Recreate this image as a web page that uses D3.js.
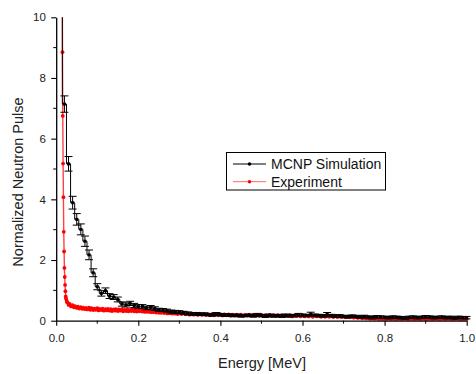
<!DOCTYPE html>
<html><head><meta charset="utf-8">
<script src="https://cdn.jsdelivr.net/npm/d3@7/dist/d3.min.js"></script>
<style>body{margin:0;background:#fff}svg{display:block}text{font-family:"Liberation Sans",Arial,sans-serif}</style>
</head><body><svg id="c" width="476" height="374"></svg>
<script>
// MCNP simulation: bin energies (MeV), values and error bars
const simEnergy = [0.01,0.02,0.03,0.04,0.05,0.06,0.07,0.08,0.09,0.10,0.11,0.12,0.13,0.14,0.15,0.16,0.17,0.18,0.19,0.20,
0.21,0.22,0.23,0.24,0.25,0.26,0.27,0.28,0.29,0.30,0.31,0.32,0.33,0.34,0.35,0.36,0.37,0.38,0.39,0.40,
0.41,0.42,0.43,0.44,0.45,0.46,0.47,0.48,0.49,0.50,0.51,0.52,0.53,0.54,0.55,0.56,0.57,0.58,0.59,0.60,
0.61,0.62,0.63,0.64,0.65,0.66,0.67,0.68,0.69,0.70,0.71,0.72,0.73,0.74,0.75,0.76,0.77,0.78,0.79,0.80,
0.81,0.82,0.83,0.84,0.85,0.86,0.87,0.88,0.89,0.90,0.91,0.92,0.93,0.94,0.95,0.96,0.97,0.98,0.99,1.00];
const simValue = [14.0,7.14,5.17,3.89,3.34,3.01,2.62,2.17,1.58,1.12,0.90,0.99,0.81,0.78,0.70,0.55,0.52,0.57,0.50,0.47,
0.47,0.42,0.44,0.40,0.36,0.35,0.33,0.30,0.29,0.28,0.26,0.24,0.22,0.23,0.21,0.22,0.20,0.19,0.22,0.20,
0.18,0.19,0.17,0.18,0.16,0.17,0.18,0.16,0.19,0.17,0.15,0.18,0.16,0.17,0.15,0.18,0.16,0.17,0.19,0.18,
0.17,0.22,0.18,0.17,0.16,0.21,0.17,0.15,0.16,0.14,0.13,0.15,0.14,0.12,0.14,0.12,0.10,0.13,0.12,0.11,
0.10,0.12,0.11,0.10,0.09,0.11,0.12,0.10,0.11,0.13,0.12,0.10,0.11,0.12,0.10,0.11,0.09,0.11,0.10,0.10];
const simError = [0.40,0.27,0.24,0.21,0.19,0.18,0.17,0.16,0.13,0.10,0.09,0.09,0.08,0.08,0.08,0.07,0.07,0.07,0.07,0.06,
0.06,0.06,0.06,0.06,0.05,0.05,0.05,0.05,0.05,0.05,0.05,0.05,0.04,0.04,0.04,0.04,0.04,0.04,0.05,0.04,
0.04,0.04,0.04,0.04,0.04,0.04,0.04,0.04,0.05,0.04,0.04,0.04,0.04,0.04,0.04,0.04,0.04,0.04,0.05,0.04,
0.04,0.06,0.04,0.04,0.04,0.06,0.04,0.04,0.04,0.04,0.04,0.04,0.04,0.04,0.04,0.04,0.04,0.04,0.04,0.04,
0.04,0.04,0.04,0.04,0.04,0.04,0.04,0.04,0.04,0.04,0.04,0.04,0.04,0.04,0.04,0.04,0.04,0.04,0.04,0.04];

// Experiment: [energy MeV, normalized pulse]
const experiment = [
[0.0145,13.0],[0.0150,10.4],[0.0153,8.85],[0.0160,6.75],[0.0168,5.18],[0.0176,4.07],[0.0184,2.93],[0.0192,2.28],[0.0200,1.74],
[0.0208,1.44],[0.0216,1.18],[0.0224,0.97],[0.0232,0.80],[0.0240,0.73],[0.0250,0.68],[0.0260,0.62],[0.0275,0.60],
[0.030,0.52],[0.033,0.55],[0.036,0.47],[0.040,0.51],[0.043,0.44],[0.046,0.48],[0.050,0.42],[0.053,0.46],[0.056,0.40],
[0.060,0.45],[0.063,0.39],[0.066,0.43],[0.070,0.38],[0.073,0.42],[0.076,0.37],[0.080,0.43],[0.083,0.36],[0.086,0.41],
[0.090,0.35],[0.093,0.40],[0.096,0.36],[0.100,0.41],[0.103,0.34],[0.106,0.39],[0.110,0.35],[0.113,0.40],[0.116,0.33],
[0.120,0.38],[0.123,0.34],[0.126,0.39],[0.130,0.33],[0.133,0.38],[0.136,0.32],[0.140,0.37],[0.143,0.33],[0.146,0.38],
[0.150,0.32],[0.153,0.37],[0.156,0.33],[0.160,0.38],[0.163,0.31],[0.166,0.36],[0.170,0.32],[0.173,0.37],[0.176,0.31],
[0.180,0.36],[0.183,0.32],[0.186,0.37],[0.190,0.31],[0.193,0.36],[0.196,0.30],[0.200,0.35],[0.203,0.31],[0.206,0.36],
[0.210,0.30],[0.213,0.34],[0.216,0.29],[0.220,0.34],[0.223,0.29],[0.226,0.33],[0.230,0.28],[0.233,0.32],[0.236,0.28],
[0.240,0.31],[0.243,0.27],[0.246,0.31],[0.250,0.26],[0.253,0.30],[0.256,0.26],[0.260,0.29],[0.263,0.25],[0.266,0.28],
[0.270,0.24],[0.273,0.28],[0.276,0.24],[0.280,0.27],[0.283,0.23],[0.286,0.27],[0.290,0.23],[0.293,0.26],[0.296,0.22],
[0.300,0.26],[0.305,0.22],[0.310,0.25],[0.315,0.21],[0.320,0.24],[0.325,0.20],[0.330,0.24],[0.335,0.20],[0.340,0.23],
[0.345,0.19],[0.350,0.23],[0.355,0.19],[0.360,0.22],[0.365,0.19],[0.370,0.22],[0.375,0.18],[0.380,0.22],[0.385,0.18],
[0.390,0.21],[0.395,0.18],[0.400,0.21],[0.405,0.17],[0.410,0.21],[0.415,0.18],[0.420,0.21],[0.425,0.17],[0.430,0.20],
[0.435,0.17],[0.440,0.20],[0.445,0.17],[0.450,0.20],[0.455,0.16],[0.460,0.19],[0.465,0.17],[0.470,0.20],[0.475,0.16],
[0.480,0.19],[0.485,0.16],[0.490,0.19],[0.495,0.16],[0.500,0.19],[0.505,0.15],[0.510,0.18],[0.515,0.16],[0.520,0.19],
[0.525,0.15],[0.530,0.18],[0.535,0.15],[0.540,0.18],[0.545,0.15],[0.550,0.18],[0.555,0.15],[0.560,0.17],[0.565,0.15],
[0.570,0.18],[0.575,0.14],[0.580,0.17],[0.585,0.15],[0.590,0.18],[0.595,0.14],[0.600,0.17],[0.605,0.14],[0.610,0.17],
[0.615,0.14],[0.620,0.17],[0.625,0.13],[0.630,0.16],[0.635,0.14],[0.640,0.16],[0.645,0.13],[0.650,0.16],[0.655,0.13],
[0.660,0.15],[0.665,0.13],[0.670,0.15],[0.675,0.12],[0.680,0.15],[0.685,0.12],[0.690,0.14],[0.695,0.12],[0.700,0.14],
[0.705,0.11],[0.710,0.13],[0.715,0.11],[0.720,0.13],[0.725,0.10],[0.730,0.12],[0.735,0.09],[0.740,0.11],[0.745,0.08],
[0.750,0.09],[0.755,0.07],[0.760,0.08],[0.765,0.06],[0.770,0.07],[0.775,0.06],[0.780,0.07],[0.785,0.05],[0.790,0.06],
[0.795,0.05],[0.800,0.06],[0.805,0.05],[0.810,0.06],[0.815,0.05],[0.820,0.06],[0.825,0.05],[0.830,0.05],[0.835,0.06],
[0.840,0.05],[0.845,0.05],[0.850,0.06],[0.855,0.05],[0.860,0.05],[0.865,0.06],[0.870,0.05],[0.875,0.05],[0.880,0.06],
[0.885,0.05],[0.890,0.05],[0.895,0.06],[0.900,0.05],[0.905,0.05],[0.910,0.06],[0.915,0.05],[0.920,0.05],[0.925,0.06],
[0.930,0.05],[0.935,0.05],[0.940,0.06],[0.945,0.05],[0.950,0.05],[0.955,0.06],[0.960,0.05],[0.965,0.05],[0.970,0.05],
[0.975,0.06],[0.980,0.05],[0.985,0.05],[0.990,0.05],[0.995,0.05],[1.000,0.05]];

const xTicks = [0.0,0.2,0.4,0.6,0.8,1.0];
const yTicks = [0,2,4,6,8,10];
const seriesNames = ["MCNP Simulation","Experiment"];

const svg = d3.select("#c");
const X0 = 56.2, X1 = 466.7, Y0 = 320.7, Y1 = 17.3;
const x = d3.scaleLinear().domain([0,1]).range([X0,X1]);
const y = d3.scaleLinear().domain([0,10]).range([Y0,Y1]);

svg.append("defs").append("clipPath").attr("id","clip")
  .append("rect").attr("x",X0).attr("y",Y1).attr("width",X1-X0+4).attr("height",Y0-Y1);

const plot = svg.append("g").attr("clip-path","url(#clip)");

// Experiment (red)
const expLine = d3.line().x(d=>x(d[0])).y(d=>y(d[1]));
plot.append("path").datum(experiment).attr("d",expLine)
  .attr("fill","none").attr("stroke","#ff0000").attr("stroke-width",1.4).attr("stroke-opacity",0.75);
plot.append("g").selectAll("circle").data(experiment).join("circle")
  .attr("cx",d=>x(d[0])).attr("cy",d=>y(d[1])).attr("r",1.9).attr("fill","#ff0000");

// Simulation (black step + points + error bars)
const sim = simEnergy.map((e,i)=>({e, v:simValue[i], err:simError[i]}));
const simLine = d3.line().x(d=>x(d.e)).y(d=>y(d.v)).curve(d3.curveStep);
plot.append("path").datum(sim).attr("d",simLine)
  .attr("fill","none").attr("stroke","#000").attr("stroke-width",1);
const eb = plot.append("g").attr("stroke","#000").attr("stroke-width",1);
sim.forEach(d=>{
  const cx = x(d.e), t = y(d.v+d.err), b = y(d.v-d.err);
  eb.append("line").attr("x1",cx).attr("x2",cx).attr("y1",t).attr("y2",b);
  eb.append("line").attr("x1",cx-4).attr("x2",cx+4).attr("y1",t).attr("y2",t);
  eb.append("line").attr("x1",cx-4).attr("x2",cx+4).attr("y1",b).attr("y2",b);
});
plot.append("g").selectAll("rect").data(sim).join("rect")
  .attr("x",d=>x(d.e)-1.5).attr("y",d=>y(d.v)-1.5).attr("width",3).attr("height",3).attr("fill","#000");

// Axes
const xAxis = d3.axisBottom(x).tickValues(xTicks).tickFormat(d3.format(".1f")).tickSize(5).tickSizeOuter(0);
const yAxis = d3.axisLeft(y).tickValues(yTicks).tickFormat(d3.format("d")).tickSize(5).tickSizeOuter(0);
const gx = svg.append("g").attr("transform",`translate(0,${Y0})`).call(xAxis);
const gy = svg.append("g").attr("transform",`translate(${X0},0)`).call(yAxis);
// minor ticks
const xMinor = [0.1,0.3,0.5,0.7,0.9];
const yMinor = [1,3,5,7,9];
gx.append("g").selectAll("line").data(xMinor).join("line")
  .attr("x1",d=>x(d)).attr("x2",d=>x(d)).attr("y1",0).attr("y2",3).attr("stroke","#000");
gy.append("g").selectAll("line").data(yMinor).join("line")
  .attr("y1",d=>y(d)).attr("y2",d=>y(d)).attr("x1",0).attr("x2",-3).attr("stroke","#000");
[gx,gy].forEach(g=>{
  g.select(".domain").attr("stroke","#000").attr("stroke-width",1.3);
  g.selectAll(".tick line").attr("stroke","#000").attr("stroke-width",1.1);
  g.selectAll(".tick text").attr("font-size",11.5).attr("fill","#222").attr("font-family","Liberation Sans, Arial, sans-serif");
});
gx.selectAll(".tick text").attr("dy","1.2em");
gy.selectAll(".tick text").attr("dx","-0.2em");

svg.append("text").attr("x",262).attr("y",368).attr("text-anchor","middle")
  .attr("font-size",14.5).attr("fill","#222").text("Energy [MeV]");
svg.append("text").attr("transform","translate(23,182) rotate(-90)").attr("text-anchor","middle")
  .attr("font-size",14.5).attr("fill","#222").text("Normalized Neutron Pulse");

// Legend
const lg = svg.append("g");
lg.append("rect").attr("x",226.5).attr("y",152.5).attr("width",159).attr("height",37.5)
  .attr("fill","#fff").attr("stroke","#000").attr("stroke-width",1);
const colors = ["#000","#ff0000"];
seriesNames.forEach((n,i)=>{
  const ly = 164 + i*17.7;
  lg.append("line").attr("x1",233).attr("x2",266).attr("y1",ly).attr("y2",ly)
    .attr("stroke",colors[i]).attr("stroke-width",1).attr("stroke-opacity",i?0.6:1);
  lg.append("circle").attr("cx",249.5).attr("cy",ly).attr("r",1.8).attr("fill",colors[i]);
  lg.append("text").attr("x",271).attr("y",ly+5).attr("font-size",14).attr("fill","#111").text(n);
});
</script>
</body></html>
